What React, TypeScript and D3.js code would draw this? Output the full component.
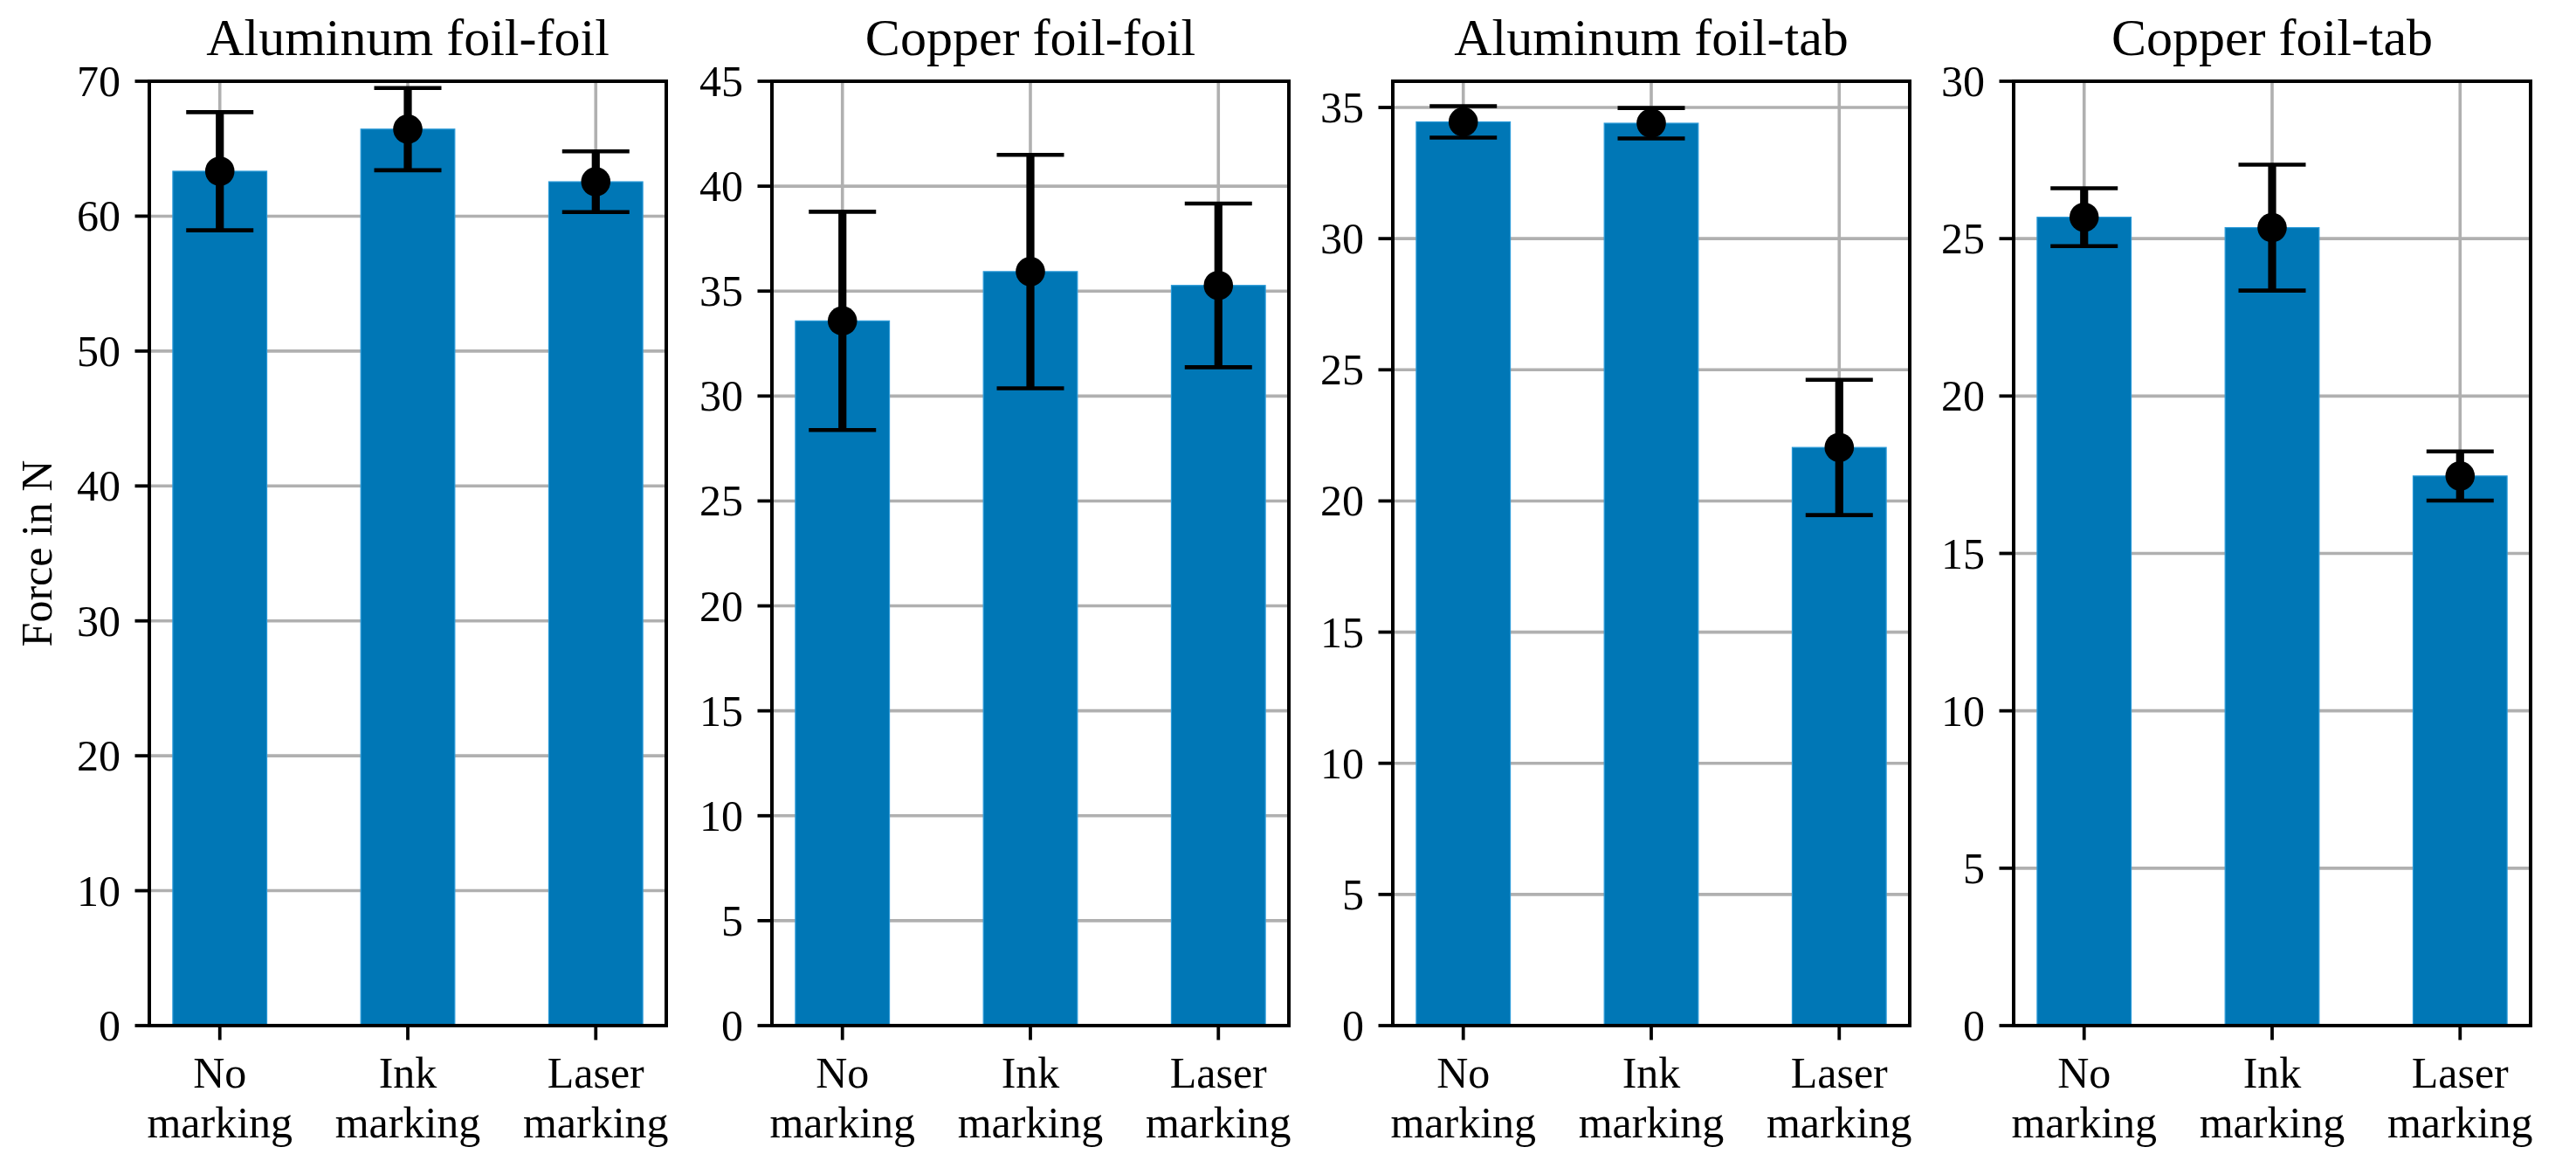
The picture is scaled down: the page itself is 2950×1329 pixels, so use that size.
import React from "react";
import * as d3 from "d3";

const titles = ["Aluminum foil-foil", "Copper foil-foil", "Aluminum foil-tab", "Copper foil-tab"];
const categories = ["No marking", "Ink marking", "Laser marking"];
const categoryLines = [["No", "marking"], ["Ink", "marking"], ["Laser", "marking"]];

const meansAlFoil = [63.33, 66.45, 62.55];
const errsAlFoil = [4.38, 3.05, 2.25];
const meansCuFoil = [33.58, 35.93, 35.27];
const errsCuFoil = [5.2, 5.56, 3.9];
const meansAlTab = [34.45, 34.4, 22.04];
const errsAlTab = [0.6, 0.58, 2.58];
const meansCuTab = [25.68, 25.35, 17.46];
const errsCuTab = [0.92, 2.0, 0.78];

const yMax = [70, 45, 36, 30];
const yTickStep = [10, 5, 5, 5];
const yLabel = "Force in N";

const panelMeans = [meansAlFoil, meansCuFoil, meansAlTab, meansCuTab];
const panelErrs = [errsAlFoil, errsCuFoil, errsAlTab, errsCuTab];

const W = 2950;
const H = 1329;
const panelLefts = [171, 884, 1595, 2306];
const panelW = 592;
const top = 93;
const bottom = 1174;
const FONT = "'Liberation Serif', 'Times New Roman', serif";
const BAR = "#0077B6";
const GRID = "#b0b0b0";

function Panel({ idx }: { idx: number }) {
  const left = panelLefts[idx];
  const x = d3.scaleLinear().domain([-0.375, 2.375]).range([left, left + panelW]);
  const y = d3.scaleLinear().domain([0, yMax[idx]]).range([bottom, top]);
  const ticks = d3.range(0, yMax[idx] + 0.001, yTickStep[idx]);
  const means = panelMeans[idx];
  const errs = panelErrs[idx];
  const bw = x(0.5) - x(0);
  const cap = 38.5;
  return (
    <g>
      {/* grid */}
      {ticks.map((t) => (
        <line key={"gy" + t} x1={left} x2={left + panelW} y1={y(t)} y2={y(t)} stroke={GRID} strokeWidth={3.6} />
      ))}
      {categories.map((c, i) => (
        <line key={"gx" + c} x1={x(i)} x2={x(i)} y1={top} y2={bottom} stroke={GRID} strokeWidth={3.6} />
      ))}
      {/* bars */}
      {means.map((m, i) => (
        <rect
          key={"b" + i}
          x={x(i) - bw / 2}
          y={y(m)}
          width={bw}
          height={y(0) - y(m)}
          fill={BAR}
          stroke="#2a9ad8"
          strokeWidth={1.2}
        />
      ))}
      {/* error bars */}
      {means.map((m, i) => (
        <g key={"e" + i}>
          <line x1={x(i)} x2={x(i)} y1={y(m - errs[i])} y2={y(m + errs[i])} stroke="#000" strokeWidth={9.2} />
          <line x1={x(i) - cap} x2={x(i) + cap} y1={y(m + errs[i])} y2={y(m + errs[i])} stroke="#000" strokeWidth={4.6} />
          <line x1={x(i) - cap} x2={x(i) + cap} y1={y(m - errs[i])} y2={y(m - errs[i])} stroke="#000" strokeWidth={4.6} />
          <circle cx={x(i)} cy={y(m)} r={16.8} fill="#000" />
        </g>
      ))}
      {/* frame */}
      <rect x={left} y={top} width={panelW} height={bottom - top} fill="none" stroke="#000" strokeWidth={4} />
      {/* y ticks */}
      {ticks.map((t) => (
        <g key={"ty" + t}>
          <line x1={left - 16.5} x2={left} y1={y(t)} y2={y(t)} stroke="#000" strokeWidth={3.8} />
          <text x={left - 33} y={y(t)} dy="0.34em" textAnchor="end" fontFamily={FONT} fontSize={50} fill="#000">
            {t}
          </text>
        </g>
      ))}
      {/* x ticks */}
      {categoryLines.map((lines, i) => (
        <g key={"tx" + i}>
          <line x1={x(i)} x2={x(i)} y1={bottom} y2={bottom + 16.5} stroke="#000" strokeWidth={3.8} />
          {lines.map((ln, j) => (
            <text key={j} x={x(i)} y={1245 + j * 57} textAnchor="middle" fontFamily={FONT} fontSize={50} fill="#000">
              {ln}
            </text>
          ))}
        </g>
      ))}
      <text x={left + panelW / 2} y={63} textAnchor="middle" fontFamily={FONT} fontSize={60} fill="#000">
        {titles[idx]}
      </text>
    </g>
  );
}

export default function App() {
  return (
    <svg
      width={W}
      height={H}
      viewBox={`0 0 ${W} ${H}`}
      style={{ position: "absolute", left: 0, top: 0, background: "#fff" }}
    >
      <rect x={0} y={0} width={W} height={H} fill="#fff" />
      {titles.map((t, i) => (
        <Panel key={t} idx={i} />
      ))}
      <text
        transform={`translate(59, ${(top + bottom) / 2}) rotate(-90)`}
        textAnchor="middle"
        fontFamily={FONT}
        fontSize={50}
        fill="#000"
      >
        {yLabel}
      </text>
    </svg>
  );
}
